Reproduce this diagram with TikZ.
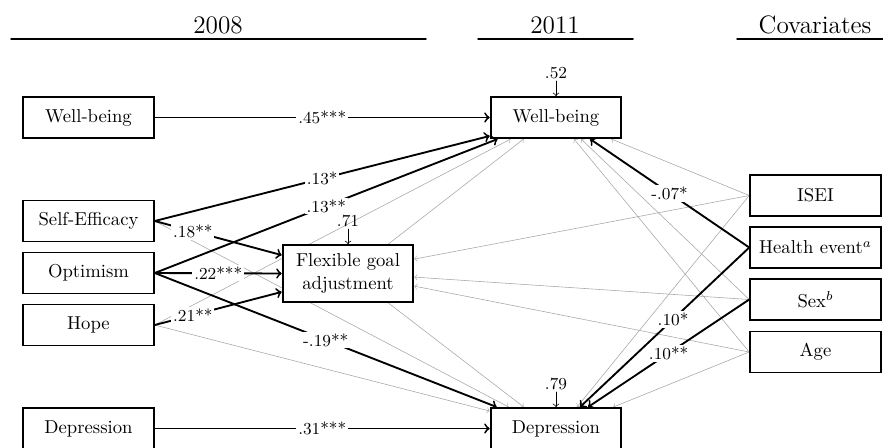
\documentclass[tikz,border=0pt]{standalone}
\usetikzlibrary{positioning,calc,backgrounds}

\begin{document}
\begin{tikzpicture}
[x=0.5357pt,y=-0.5357pt,line cap=round,
% Styles
box/.style={draw,line width=1pt,fill=white,minimum width=70pt,minimum height=22pt,inner sep=2pt},
wide box/.style={box,minimum height=30.5pt,align=center},
header/.style={font=\fontsize{13.5}{16}\selectfont},
rule/.style={thick},
path line/.style={->,line width=1pt},
weak line/.style={->,line width=0.3pt,weakcolor},
coef/.style={font=\small,fill=white,inner sep=1pt},
resid/.style={font=\small,inner sep=1pt}]
% Colors
\colorlet{weakcolor}{gray!70}

\useasboundingbox (0,0) rectangle (883,447);

% Headers
\node[header] (h2008) at (218,25) {2008};
\node[header] (h2011) at (555,25) {2011};
\node[header] (hcov) at (815,25) {Covariates};
\draw[rule] (11,39) -- (426,39);
\draw[rule] (478,39) -- (633,39);
\draw[rule] (737,39) -- (883,39);

% 2008
\node[box] (wb08) at (88.5,117.5) {Well-being};
\node[box] (se) at (88.5,221) {Self-Efficacy};
\node[box] (opt) at (88.5,273) {Optimism};
\node[box] (hope) at (88.5,325) {Hope};
\node[box] (dep08) at (88.5,428.5) {Depression};
% 2011
\node[box] (wb11) at (556,117.5) {Well-being};
\node[wide box] (fga) at (348,273.5) {Flexible goal\\adjustment};
\node[box] (dep11) at (556,428.5) {Depression};
% Covariates
\node[box] (isei) at (815.5,195.5) {ISEI};
\node[box] (health) at (815.5,247.5) {Health event$^a$};
\node[box] (sex) at (815.5,299.5) {Sex$^b$};
\node[box] (age) at (815.5,352) {Age};

% Residuals
\node[resid] (r52) [above=8pt of wb11] {.52};
\node[resid] (r71) [above=8pt of fga] {.71};
\node[resid] (r79) [above=8pt of dep11] {.79};
\draw[->] (r52) -- (wb11);
\draw[->] (r71) -- (fga);
\draw[->] (r79) -- (dep11);

% Non-significant paths
\begin{scope}[on background layer]
\draw[weak line] (hope.east) -- ($(wb11.south west)+(21,0)$);
\draw[weak line] ($(fga.north east)+(-26,0)$) -- ($(wb11.south west)+(34,0)$);
\draw[weak line] (se.east) -- ($(dep11.north west)+(19,0)$);
\draw[weak line] ($(fga.south east)+(-26,0)$) -- ($(dep11.north west)+(34,0)$);
\draw[weak line] (hope.east) -- ($(dep11.north west)+(0,4)$);
\draw[weak line] (isei.west) -- ($(wb11.south east)+(-11,0)$);
\draw[weak line] (isei.west) -- ($(fga.north east)+(0,15)$);
\draw[weak line] (isei.west) -- ($(dep11.north)+(21,0)$);
\draw[weak line] (sex.west) -- ($(wb11.south)+(25,0)$);
\draw[weak line] (age.west) -- ($(wb11.south)+(18,0)$);
\draw[weak line] (sex.west) -- ($(fga.north east)+(0,33)$);
\draw[weak line] (age.west) -- ($(fga.north east)+(0,42)$);
\draw[weak line] (age.west) -- ($(dep11.north east)+(-9,0)$);
\end{scope}

% Significant paths
\draw[path line] (wb08) -- node[coef] {.45***} (wb11);
\draw[path line] (se.east) -- node[coef] {.13*} ($(wb11.south west)+(0,-3)$);
\draw[path line] (opt.east) -- node[coef] {.13**} ($(wb11.south west)+(8,0)$);
\draw[path line] (se.east) -- node[coef,pos=.3] {.18**} ($(fga.north west)+(0,11)$);
\draw[path line] (opt.east) -- node[coef] {.22***} (fga.west);
\draw[path line] (hope.east) -- node[coef,pos=.3] {.21**} ($(fga.south west)+(0,-11)$);
\draw[path line] (opt.east) -- node[coef] {-.19**} ($(dep11.north west)+(7,0)$);
\draw[path line] (dep08) -- node[coef] {.31***} (dep11);
\draw[path line] (health.west) -- node[coef] {-.07*} ($(wb11.south)+(34,0)$);
\draw[path line] (health.west) -- node[coef,pos=.45] {.10*} ($(dep11.north)+(24,0)$);
\draw[path line] (sex.west) -- node[coef] {.10**} ($(dep11.north)+(32,0)$);
\end{tikzpicture}
\end{document}
